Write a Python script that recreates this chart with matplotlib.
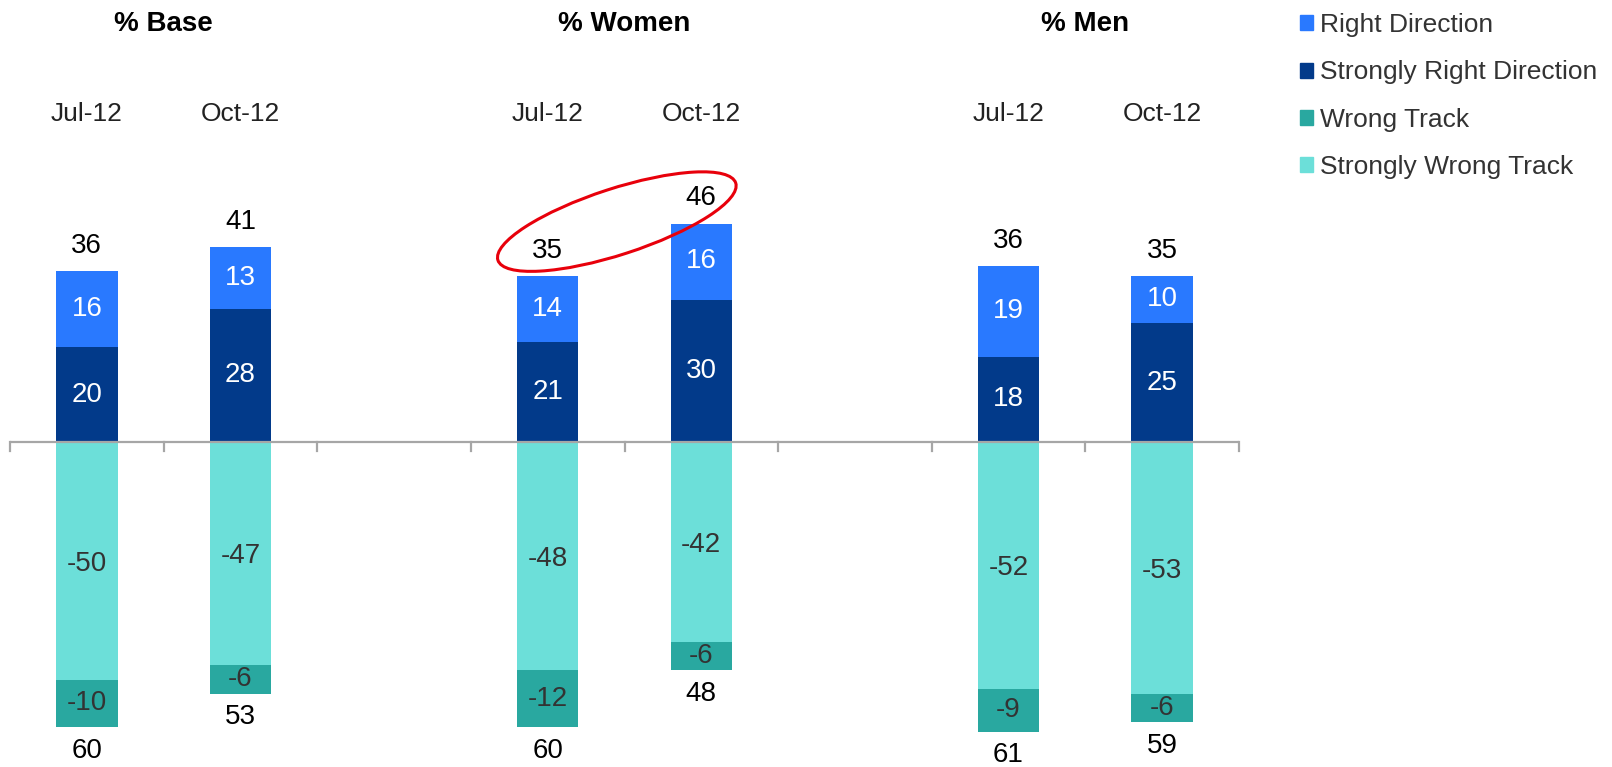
import numpy as np
import matplotlib
matplotlib.use("Agg")
import matplotlib.pyplot as plt
from matplotlib.patches import Patch, Ellipse
from matplotlib.transforms import ScaledTranslation

plt.rcParams["font.family"] = ["Liberation Sans", "DejaVu Sans"]

groups = ["% Base", "% Women", "% Men"]
periods = ["Jul-12", "Oct-12"]

# one value per bar: Base Jul, Base Oct, Women Jul, Women Oct, Men Jul, Men Oct
right_dir = [16, 13, 14, 16, 19, 10]
strong_right = [20, 28, 21, 30, 18, 25]
wrong_track = [-10, -6, -12, -6, -9, -6]
strong_wrong = [-50, -47, -48, -42, -52, -53]
pos_totals = [36, 41, 35, 46, 36, 35]
neg_totals = [60, 53, 60, 48, 61, 59]

c_rd = "#2979FF"
c_srd = "#023A8A"
c_wt = "#29A8A0"
c_swt = "#6CDFD9"

# bar slots, with an empty slot between groups
x = np.array([0, 1, 3, 4, 6, 7])
w = 0.4

fig = plt.figure(figsize=(16.12, 7.67), dpi=100)
ax = fig.add_axes([10 / 1612, 2 / 767, 1229 / 1612, 608 / 767])
ax.set_xlim(-0.5, 7.5)
ax.set_ylim(-68, 60)

sr = np.array(strong_right)
rd = np.array(right_dir)
sw = np.array(strong_wrong)
wt = np.array(wrong_track)

ax.bar(x, sr, w, color=c_srd)
ax.bar(x, rd, w, bottom=sr, color=c_rd)
ax.bar(x, sw, w, color=c_swt)
ax.bar(x, wt, w, bottom=sw, color=c_wt)

fs = 20
for i, xi in enumerate(x):
    ax.text(xi, sr[i] / 2, str(sr[i]), ha="center", va="center", color="white", fontsize=fs)
    ax.text(xi, sr[i] + rd[i] / 2, str(rd[i]), ha="center", va="center", color="white", fontsize=fs)
    ax.text(xi, sw[i] / 2 - 0.6, str(sw[i]), ha="center", va="center", color="#333333", fontsize=fs)
    ax.text(xi, sw[i] + wt[i] / 2, str(wt[i]), ha="center", va="center", color="#333333", fontsize=fs)
    ax.text(xi, sr[i] + rd[i] + 5.3, str(pos_totals[i]), ha="center", va="center", color="black", fontsize=fs)
    ax.text(xi, sw[i] + wt[i] - 5.0, str(neg_totals[i]), ha="center", va="center", color="black", fontsize=fs,
            clip_on=False)
    ax.text(xi, 69, periods[i % 2], ha="center", va="center", color="#222222", fontsize=19, clip_on=False)

for g, name in enumerate(groups):
    ax.text(3 * g + 0.5, 88, name, ha="center", va="center", fontsize=20, fontweight="bold", clip_on=False)

# axis line with downward ticks at slot boundaries
for s in ["top", "right", "left", "bottom"]:
    ax.spines[s].set_visible(False)
ax.axhline(0, color="#A6A6A6", linewidth=1.6, zorder=3)
ax.set_yticks([])
ax.set_xticks([])
for b in np.arange(-0.5, 8.0, 1.0):
    ax.plot([b, b], [0, -1.8], color="#A6A6A6", linewidth=1.6, clip_on=False, zorder=3)

# red ellipse around the women totals
ell = Ellipse((0, 0), 2.5, 0.66, angle=18, fill=False, edgecolor="#E8000B", linewidth=2.2,
              transform=fig.dpi_scale_trans + ScaledTranslation(3.45, 46.4, ax.transData))
ax.add_patch(ell)
ell.set_clip_on(False)

handles = [Patch(color=c_rd, label="Right Direction"),
           Patch(color=c_srd, label="Strongly Right Direction"),
           Patch(color=c_wt, label="Wrong Track"),
           Patch(color=c_swt, label="Strongly Wrong Track")]
fig.legend(handles=handles, loc="upper left", bbox_to_anchor=(1287 / 1612, 1.0), frameon=False,
           fontsize=19, handlelength=0.5, handleheight=0.5, handletextpad=0.25, labelspacing=0.88,
           labelcolor="#333333", borderaxespad=0.1)

fig.savefig("out.png", dpi=100)
